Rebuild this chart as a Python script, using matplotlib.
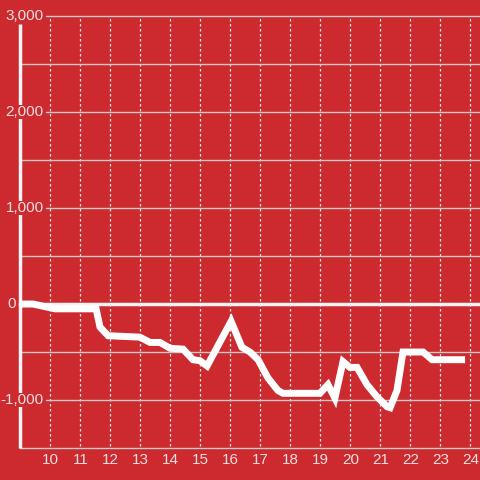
import matplotlib
matplotlib.use("Agg")
import matplotlib.pyplot as plt

# hours of day and running value
hours = [8.98, 9.42, 10.15, 11.52, 11.65, 11.92, 12.98, 13.32, 13.65, 13.98,
         14.42, 14.75, 14.98, 15.22, 16.02, 16.38, 16.65, 16.92, 17.25, 17.58,
         17.75, 18.98, 19.25, 19.48, 19.75, 19.98, 20.22, 20.55, 20.88, 21.22,
         21.32, 21.55, 21.75, 22.42, 22.72, 23.82]
values = [0, 0, -50, -50, -240, -330, -345, -400, -400, -460,
          -470, -580, -590, -645, -180, -450, -500, -580, -770, -900,
          -930, -930, -840, -980, -600, -660, -660, -840, -965, -1070,
          -1080, -900, -500, -500, -580, -580]

x_ticks = list(range(10, 25))
y_major = [-1000, 1000, 2000, 3000]
y_minor = [-500, 500, 1500, 2500]

bg = "#cc2a2f"
grid = "#c8c8c8"
txt = "#f2dede"

plt.rcParams['font.family'] = ['Liberation Sans', 'DejaVu Sans']

fig = plt.figure(figsize=(4.8, 4.8), dpi=100, facecolor=bg)
ax = fig.add_axes([0, 0, 1, 1], facecolor=bg)
xmin, xmax = 8.317, 24.317   # full figure width
spine_x = 8.983
ymin, ymax = -1833, 3167
ax.axis("off")

# vertical dotted gridlines
for h in x_ticks:
    ax.plot([h, h], [-1480, 3000], color="#e8e8e8", lw=0.9, ls=(0, (2, 2)), zorder=1)
    ax.text(h, -1625, str(h), color=txt, fontsize=11, ha="center", va="center")

# horizontal gridlines
for v in y_minor:
    ax.plot([spine_x, xmax], [v, v], color=grid, lw=1, zorder=1)
for v in y_major:
    ax.plot([9.85, xmax], [v, v], color=grid, lw=1, zorder=1)
ax.plot([spine_x, xmax], [-1500, -1500], color=grid, lw=1, zorder=1)

# left axis line
ax.plot([spine_x, spine_x], [-1500, 2917], color="#f4f4f4", lw=2.5, zorder=2,
        solid_capstyle="butt")

# zero line
ax.plot([spine_x, xmax], [0, 0], color="#f4f4f4", lw=2.5, zorder=3)

for v in y_major:
    ax.text(9.77, v, f"{v:,}", color=txt, fontsize=11, ha="right", va="center",
            zorder=4, bbox=dict(facecolor=bg, edgecolor="none", pad=0.3))
ax.text(8.717, 0, "0", color=txt, fontsize=11, ha="center", va="center", zorder=4)

ax.plot(hours, values, color="white", lw=5, zorder=5, solid_joinstyle="miter",
        solid_capstyle="butt")

ax.set_xlim(xmin, xmax)
ax.set_ylim(ymin, ymax)

fig.savefig("out.png", dpi=100, facecolor=bg)
